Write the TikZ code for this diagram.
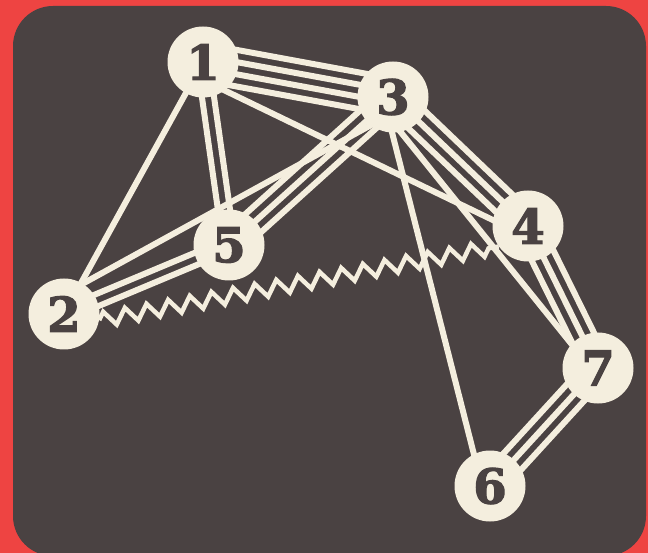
\documentclass[tikz,border=0pt]{standalone}
\usepackage{fontspec}
\setmainfont{DejaVu Serif}
\newfontfamily\numfont[BoldFeatures={FakeBold=2.5}]{DejaVu Serif}
\usetikzlibrary{calc,decorations.pathmorphing}
\definecolor{bgred}{RGB}{238,68,66}
\definecolor{board}{RGB}{74,66,66}
\definecolor{cream}{RGB}{244,238,222}
\tikzset{
  vert/.style={circle, fill=cream, minimum size=71pt, inner sep=0pt,
    text=board, font=\numfont\fontsize{48}{48}\selectfont\bfseries},
  edge/.style={draw=cream, line width=6pt, line cap=round},
  zz/.style={draw=cream, line width=4.5pt, line join=miter,
    decorate, decoration={zigzag, segment length=22pt, amplitude=7.5pt}}
}
\newcommand{\bundle}[3]{%
  \foreach \o in {#3}
    \draw[edge] ($(#1.center)!\o pt!90:(#2.center)$) -- ($(#2.center)!\o pt!-90:(#1.center)$);}
\begin{document}
\begin{tikzpicture}[x=1pt,y=-1pt]
\useasboundingbox (0,0) rectangle (648,553);
\fill[bgred] (0,0) rectangle (648,553);
\fill[board, rounded corners=40pt] (13,6) rectangle (646,556);
% vertex positions
\path (203,62) coordinate (p1) (393,97) coordinate (p3) (229,245) coordinate (p5)
      (64,314) coordinate (p2) (528,226) coordinate (p4) (598,368) coordinate (p7)
      (490,486) coordinate (p6);
\node[vert, opacity=0] (n1) at (p1) {};
\node[vert, opacity=0] (n2) at (p2) {};
\node[vert, opacity=0] (n3) at (p3) {};
\node[vert, opacity=0] (n4) at (p4) {};
\node[vert, opacity=0] (n5) at (p5) {};
\node[vert, opacity=0] (n6) at (p6) {};
\node[vert, opacity=0] (n7) at (p7) {};
% connectors
\bundle{n1}{n3}{-18,-6,6,18}
\bundle{n1}{n5}{-6,6}
\bundle{n2}{n5}{-6,6}
\bundle{n3}{n5}{-12,0,12}
\bundle{n3}{n4}{-12,0,12}
\bundle{n4}{n7}{-12,0,12}
\bundle{n7}{n6}{-12,0,12}
\draw[edge] (n1.center) -- (n2.center);
\draw[edge] ($(n1.center)+(0,18)$) -- ($(n4.center)+(0,11)$);
\draw[edge] ($(n2.center)+(0,-20)$) -- ($(n3.center)+(0,16)$);
\draw[edge] ($(n3.center)+(6,33)$) -- ($(n7.center)+(-12,-6)$);
\draw[edge] ($(n3.center)+(-10,0)$) -- ($(n6.center)+(-8,0)$);
\draw[zz] (n2.-10) -- (n4.215);
% vertices
\node[vert] at (p1) {1};
\node[vert] at (p2) {2};
\node[vert] at (p3) {3};
\node[vert] at (p4) {4};
\node[vert] at (p5) {5};
\node[vert] at (p6) {6};
\node[vert] at (p7) {7};
\end{tikzpicture}
\end{document}
